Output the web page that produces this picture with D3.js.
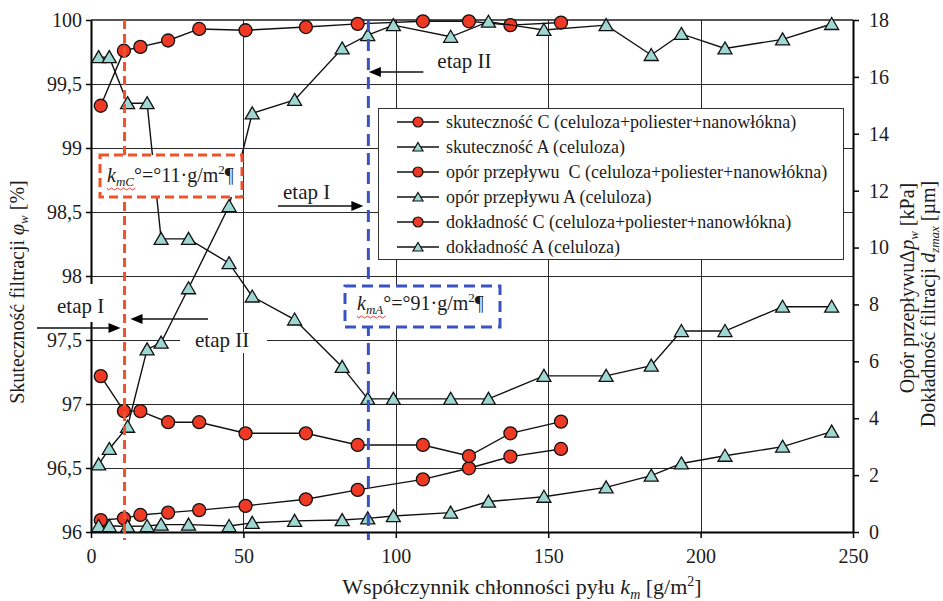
<!DOCTYPE html>
<html><head><meta charset="utf-8">
<script src="https://cdn.jsdelivr.net/npm/d3@7"></script>
<style>
body{margin:0;background:#fff}
svg{display:block;font-family:"Liberation Serif","Times New Roman",serif}
</style></head><body>
<svg id="c" width="943" height="601"></svg>
<script>
// ---- data ----
const xC = [3.2, 10.8, 16.2, 25.3, 35.5, 50.7, 70.5, 87.5, 108.9, 124, 137.6, 154.2];
const xA = [2.5, 6, 12, 18.4, 23, 32, 45.3, 52.9, 66.8, 82.4, 90.8, 99.2, 118, 130.4, 148.6, 169, 183.8, 193.7, 208, 226.9, 243];
const skutecznoscC = [99.33, 99.76, 99.79, 99.84, 99.93, 99.92, 99.945, 99.97, 99.99, 99.99, 99.96, 99.98];
const skutecznoscA = [99.71, 99.71, 99.35, 99.35, 98.29, 98.29, 98.10, 97.84, 97.66, 97.29, 97.04, 97.04, 97.04, 97.04, 97.22, 97.22, 97.30, 97.57, 97.57, 97.76, 97.76];
const oporC = [0.42, 0.48, 0.60, 0.68, 0.77, 0.92, 1.15, 1.48, 1.85, 2.24, 2.65, 2.92];
const oporA = [0.21, 0.21, 0.20, 0.21, 0.26, 0.26, 0.21, 0.32, 0.39, 0.42, 0.48, 0.56, 0.68, 1.07, 1.24, 1.57, 1.98, 2.41, 2.68, 3.0, 3.53];
const dokladnoscC = [5.48, 4.25, 4.25, 3.86, 3.86, 3.47, 3.47, 3.06, 3.06, 2.67, 3.47, 3.88];
const dokladnoscA = [2.38, 2.92, 3.70, 6.42, 6.66, 8.57, 11.46, 14.72, 15.19, 17.0, 17.47, 17.82, 17.41, 17.94, 17.65, 17.82, 16.77, 17.51, 17.0, 17.32, 17.86];
const xTicks = [0, 50, 100, 150, 200, 250];
const leftTicks = [96, 96.5, 97, 97.5, 98, 98.5, 99, 99.5, 100];
const rightTicks = [0, 2, 4, 6, 8, 10, 12, 14, 16, 18];
const legendLabels = [
  "skuteczność C (celuloza+poliester+nanowłókna)",
  "skuteczność A (celuloza)",
  "opór przepływu\u00a0 C (celuloza+poliester+nanowłókna)",
  "opór przepływu A (celuloza)",
  "dokładność C (celuloza+poliester+nanowłókna)",
  "dokładność A (celuloza)"
];
const kmC = 11, kmA = 91;

// ---- layout ----
const W = 943, H = 601, L = 91, R = 853, T = 20, B = 532;
const RED = "#ee3a24", TEAL = "#9fd8d2", DRED = "#f0532a", DBLUE = "#3a52c4", INK = "#1c1c1c";
const svg = d3.select("#c");
const x = d3.scaleLinear().domain([0, 250]).range([L, R]);
const yL = d3.scaleLinear().domain([96, 100]).range([B, T]);
const yR = d3.scaleLinear().domain([0, 18]).range([B, T]);

svg.append("rect").attr("width", W).attr("height", H).attr("fill", "#fff");

// gridlines
const grid = svg.append("g").attr("stroke", "#2a2a2a").attr("stroke-width", 1);
grid.selectAll("line.h").data(leftTicks.filter(v => v > 96 && v < 100)).join("line")
  .attr("class", "h").attr("x1", L).attr("x2", R)
  .attr("y1", d => Math.round(yL(d)) + 0.5).attr("y2", d => Math.round(yL(d)) + 0.5);
grid.selectAll("line.v").data(xTicks.filter(v => v > 0 && v < 250)).join("line")
  .attr("class", "v").attr("y1", T).attr("y2", B)
  .attr("x1", d => Math.round(x(d)) + 0.5).attr("x2", d => Math.round(x(d)) + 0.5);
svg.append("line").attr("x1", L).attr("x2", R).attr("y1", T).attr("y2", T)
  .attr("stroke", INK).attr("stroke-width", 1.6);

// axes
function styleAxis(g, fs) {
  g.attr("font-family", null).attr("font-size", null);
  g.select(".domain").attr("stroke", "#000").attr("stroke-width", 2);
  g.selectAll(".tick line").attr("stroke", "#000").attr("stroke-width", 1.5);
  g.selectAll(".tick text").attr("fill", INK).attr("font-size", fs);
}
const fmt = d => String(d).replace(".", ",");
svg.append("g").attr("transform", `translate(${L},0)`)
  .call(d3.axisLeft(yL).tickValues(leftTicks).tickSize(5).tickSizeOuter(0).tickPadding(4).tickFormat(fmt))
  .call(g => styleAxis(g, 20));
svg.append("g").attr("transform", `translate(${R},0)`)
  .call(d3.axisRight(yR).tickValues(rightTicks).tickSize(6).tickSizeOuter(0).tickPadding(10))
  .call(g => styleAxis(g, 20));
svg.append("g").attr("transform", `translate(0,${B})`)
  .call(d3.axisBottom(x).tickValues(xTicks).tickSize(6).tickSizeOuter(0).tickPadding(11))
  .call(g => styleAxis(g, 20));

// series
const triPath = "M0,-6.5L7,5.5L-7,5.5Z";
function drawSeries(xs, ys, ys_scale, kind) {
  const g = svg.append("g");
  const line = d3.line().x((d, i) => x(xs[i])).y(d => ys_scale(d));
  g.append("path").attr("d", line(ys)).attr("fill", "none").attr("stroke", "#111").attr("stroke-width", 1.4);
  const pts = ys.map((v, i) => [x(xs[i]), ys_scale(v)]);
  if (kind === "c") {
    g.selectAll("circle").data(pts).join("circle").attr("cx", d => d[0]).attr("cy", d => d[1]).attr("r", 6.5)
      .attr("fill", RED).attr("stroke", "#111").attr("stroke-width", 1.3);
  } else {
    g.selectAll("path.m").data(pts).join("path").attr("class", "m").attr("d", triPath)
      .attr("transform", d => `translate(${d[0]},${d[1]})`)
      .attr("fill", TEAL).attr("stroke", "#111").attr("stroke-width", 1.3);
  }
}
drawSeries(xC, skutecznoscC, yL, "c");
drawSeries(xA, skutecznoscA, yL, "a");
drawSeries(xC, oporC, yR, "c");
drawSeries(xA, oporA, yR, "a");
drawSeries(xC, dokladnoscC, yR, "c");
drawSeries(xA, dokladnoscA, yR, "a");

// legend
const lg = svg.append("g");
lg.append("rect").attr("x", 378.5).attr("y", 108.5).attr("width", 465).attr("height", 151)
  .attr("fill", "#fff").attr("stroke", "#333").attr("stroke-width", 1);
legendLabels.forEach((lab, i) => {
  const yy = 122 + i * 25;
  lg.append("line").attr("x1", 397).attr("x2", 439).attr("y1", yy).attr("y2", yy).attr("stroke", "#111").attr("stroke-width", 1.4);
  if (i % 2 === 0) {
    lg.append("circle").attr("cx", 418).attr("cy", yy).attr("r", 5).attr("fill", RED).attr("stroke", "#111").attr("stroke-width", 1.2);
  } else {
    lg.append("path").attr("d", "M0,-4.5L5,4L-5,4Z").attr("transform", `translate(418,${yy})`)
      .attr("fill", TEAL).attr("stroke", "#111").attr("stroke-width", 1.2);
  }
  lg.append("text").attr("x", 446).attr("y", yy + 6).attr("font-size", 18).attr("fill", INK).text(lab);
});

// dashed km lines
svg.append("line").attr("x1", x(kmC)).attr("x2", x(kmC)).attr("y1", T).attr("y2", B + 8)
  .attr("stroke", DRED).attr("stroke-width", 3).attr("stroke-dasharray", "9,5");
svg.append("line").attr("x1", x(kmA)).attr("x2", x(kmA)).attr("y1", T).attr("y2", B + 8)
  .attr("stroke", DBLUE).attr("stroke-width", 3).attr("stroke-dasharray", "12,7");

// annotation helpers
function arrow(x1, x2, y) {
  const dir = Math.sign(x2 - x1);
  svg.append("line").attr("x1", x1).attr("x2", x2 - dir * 8).attr("y1", y).attr("y2", y)
    .attr("stroke", "#111").attr("stroke-width", 1.4);
  svg.append("path").attr("d", `M${x2},${y}L${x2 - dir * 12},${y - 5}L${x2 - dir * 12},${y + 5}Z`).attr("fill", "#000");
}
function label(tx, ty, str, fs) {
  svg.append("text").attr("x", tx).attr("y", ty).attr("font-size", fs).attr("fill", INK).text(str);
}
function kmBox(bx, by, bw, bh, col, dash, tx, ty, sub, val) {
  svg.append("rect").attr("x", bx).attr("y", by).attr("width", bw).attr("height", bh)
    .attr("fill", "#fff").attr("stroke", col).attr("stroke-width", 3).attr("stroke-dasharray", dash);
  const t = svg.append("text").attr("x", tx).attr("y", ty).attr("font-size", 20).attr("fill", INK);
  t.append("tspan").attr("font-style", "italic").text("k");
  t.append("tspan").attr("font-style", "italic").attr("font-size", 13).attr("dy", 4).text(sub);
  t.append("tspan").attr("dy", -4).text("°=°" + val + "·g/m");
  t.append("tspan").attr("font-size", 13).attr("dy", -8).text("2");
  t.append("tspan").attr("dy", 8).text("¶");
  // spell-check wavy underline
  let d = `M${tx},${ty + 6}`;
  for (let k = 0; k < 10; k++) d += `L${tx + 3 * k + 1.5},${ty + (k % 2 ? 6 : 8)}`;
  svg.append("path").attr("d", d).attr("fill", "none").attr("stroke", "#e03030").attr("stroke-width", 0.9);
}

// white backgrounds behind "etap" labels on the left
svg.append("rect").attr("x", 44).attr("y", 284).attr("width", 68).attr("height", 38).attr("fill", "#fff");
svg.append("rect").attr("x", 180).attr("y", 332).attr("width", 87).attr("height", 21).attr("fill", "#fff");

label(x(kmA) + 69, 68, "etap II", 21);
arrow(x(kmA) + 55, x(kmA) + 0.5, 72);
label(283, 199, "etap I", 21);
arrow(278, x(kmA) - 5, 206);
label(57, 313, "etap I", 21);
arrow(37, x(kmC) - 4, 328);
arrow(208, x(kmC) + 6, 319);
label(195, 347, "etap II", 21);

kmBox(100, 155, 142, 42, DRED, "9,5", 107, 182, "mC", "11");
kmBox(345, 286, 155, 41, DBLUE, "11,6", 357, 310, "mA", "91");

// axis titles
const xt = svg.append("text").attr("x", 522).attr("y", 594).attr("text-anchor", "middle").attr("font-size", 22).attr("fill", INK);
xt.append("tspan").text("Współczynnik chłonności pyłu ");
xt.append("tspan").attr("font-style", "italic").text("k");
xt.append("tspan").attr("font-style", "italic").attr("font-size", 14).attr("dy", 5).text("m");
xt.append("tspan").attr("dy", -5).text(" [g/m");
xt.append("tspan").attr("font-size", 14).attr("dy", -8).text("2");
xt.append("tspan").attr("dy", 8).text("]");

const lt = svg.append("text").attr("transform", "translate(24,292) rotate(-90)").attr("text-anchor", "middle").attr("font-size", 20).attr("fill", INK);
lt.append("tspan").text("Skuteczność filtracji ");
lt.append("tspan").attr("font-style", "italic").text("φ");
lt.append("tspan").attr("font-style", "italic").attr("font-size", 13).attr("dy", 4).text("w");
lt.append("tspan").attr("dy", -4).text(" [%]");

const rt1 = svg.append("text").attr("transform", "translate(914,288) rotate(-90)").attr("text-anchor", "middle").attr("font-size", 20).attr("fill", INK);
rt1.append("tspan").text("Opór przepływuΔ");
rt1.append("tspan").attr("font-style", "italic").text("p");
rt1.append("tspan").attr("font-style", "italic").attr("font-size", 13).attr("dy", 4).text("w");
rt1.append("tspan").attr("dy", -4).text(" [kPa]");

const rt2 = svg.append("text").attr("transform", "translate(935,304) rotate(-90)").attr("text-anchor", "middle").attr("font-size", 20).attr("fill", INK);
rt2.append("tspan").text("Dokładność filtracji ");
rt2.append("tspan").attr("font-style", "italic").text("d");
rt2.append("tspan").attr("font-style", "italic").attr("font-size", 13).attr("dy", 4).text("zmax");
rt2.append("tspan").attr("dy", -4).text(" [µm]");
</script>
</body></html>
